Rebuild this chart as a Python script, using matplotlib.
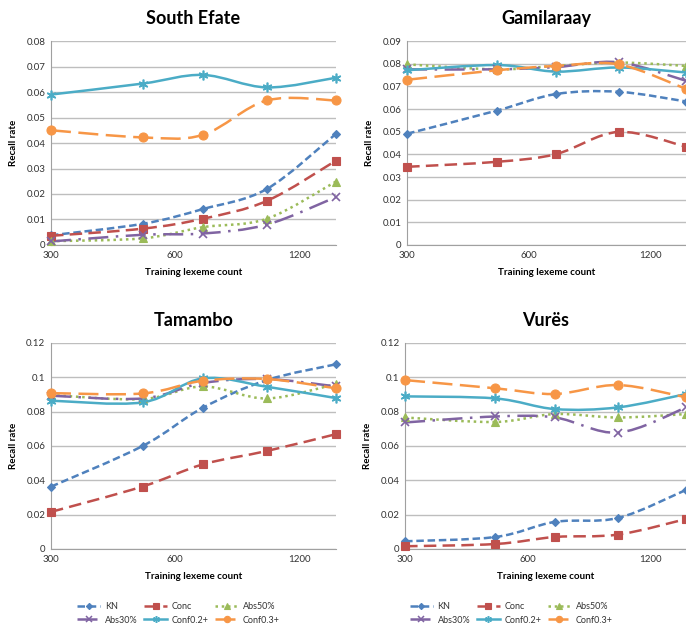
import matplotlib
matplotlib.use("Agg")
import matplotlib.pyplot as plt
import numpy as np
from matplotlib.path import Path
from matplotlib.patches import PathPatch
from matplotlib.lines import Line2D
from matplotlib.ticker import FixedLocator, NullLocator

plt.rcParams['font.family'] = ['Lato', 'DejaVu Sans']

# training sizes (log axis)
x_counts = [300, 500, 700, 1000, 1470]
series = ["KN", "Conc", "Abs50%", "Abs30%", "Conf0.2+", "Conf0.3+"]

south_efate = {
    "KN":       [0.0038, 0.0083, 0.0141, 0.0220, 0.0436],
    "Conc":     [0.0036, 0.0064, 0.0103, 0.0173, 0.0331],
    "Abs50%":   [0.0015, 0.0026, 0.0070, 0.0103, 0.0249],
    "Abs30%":   [0.0014, 0.0040, 0.0045, 0.0080, 0.0188],
    "Conf0.2+": [0.0590, 0.0633, 0.0667, 0.0618, 0.0656],
    "Conf0.3+": [0.0450, 0.0422, 0.0432, 0.0567, 0.0567],
}
gamilaraay = {
    "KN":       [0.0491, 0.0593, 0.0666, 0.0676, 0.0633],
    "Conc":     [0.0345, 0.0367, 0.0401, 0.0499, 0.0433],
    "Abs50%":   [0.0797, 0.0775, 0.0790, 0.0805, 0.0790],
    "Abs30%":   [0.0775, 0.0775, 0.0785, 0.0806, 0.0724],
    "Conf0.2+": [0.0771, 0.0794, 0.0765, 0.0783, 0.0761],
    "Conf0.3+": [0.0729, 0.0771, 0.0790, 0.0797, 0.0688],
}
tamambo = {
    "KN":       [0.0363, 0.0600, 0.0823, 0.0984, 0.1076],
    "Conc":     [0.0216, 0.0364, 0.0493, 0.0571, 0.0669],
    "Abs50%":   [0.0897, 0.0873, 0.0947, 0.0877, 0.0961],
    "Abs30%":   [0.0893, 0.0877, 0.0967, 0.0990, 0.0947],
    "Conf0.2+": [0.0864, 0.0854, 0.0994, 0.0945, 0.0879],
    "Conf0.3+": [0.0908, 0.0906, 0.0980, 0.0990, 0.0936],
}
vures = {
    "KN":       [0.0045, 0.0070, 0.0158, 0.0181, 0.0345],
    "Conc":     [0.0016, 0.0029, 0.0070, 0.0084, 0.0175],
    "Abs50%":   [0.0766, 0.0740, 0.0786, 0.0766, 0.0786],
    "Abs30%":   [0.0737, 0.0772, 0.0766, 0.0678, 0.0825],
    "Conf0.2+": [0.0889, 0.0877, 0.0815, 0.0825, 0.0903],
    "Conf0.3+": [0.0984, 0.0936, 0.0903, 0.0955, 0.0883],
}

panels = [
    ("South Efate", south_efate, 0.08, 0.01),
    ("Gamilaraay", gamilaraay, 0.09, 0.01),
    ("Tamambo", tamambo, 0.12, 0.02),
    ("Vurës", vures, 0.12, 0.02),
]

# excel-ish styles
styles = {
    "KN":       dict(color="#4F81BD", ls=(0, (3, 1.5)), marker="D", ms=4.5),
    "Conc":     dict(color="#C0504D", ls=(0, (5, 2.5)), marker="s", ms=6),
    "Abs50%":   dict(color="#9BBB59", ls=(0, (1, 1.5)), marker="^", ms=6),
    "Abs30%":   dict(color="#8064A2", ls=(0, (8, 3, 1, 3)), marker="x", ms=6),
    "Conf0.2+": dict(color="#4BACC6", ls="-", marker=(6, 2, 0), ms=7),
    "Conf0.3+": dict(color="#F79646", ls=(0, (8, 3)), marker="o", ms=6.5),
}


def smooth_path(xs, ys):
    # catmull-rom style bezier in log-x space, like excel's smoothed lines
    lx = np.log(np.array(xs, float))
    y = np.array(ys, float)
    n = len(lx)
    verts = [(xs[0], y[0])]
    codes = [Path.MOVETO]
    for i in range(n - 1):
        i0, i3 = max(i - 1, 0), min(i + 2, n - 1)
        c1x = lx[i] + (lx[i + 1] - lx[i0]) / 6
        c1y = y[i] + (y[i + 1] - y[i0]) / 6
        c2x = lx[i + 1] - (lx[i3] - lx[i]) / 6
        c2y = y[i + 1] - (y[i3] - y[i]) / 6
        verts += [(np.exp(c1x), c1y), (np.exp(c2x), c2y), (xs[i + 1], y[i + 1])]
        codes += [Path.CURVE4] * 3
    return Path(verts, codes)


fig = plt.figure(figsize=(6.86, 6.29), dpi=100)
rects = [
    [0.0743, 0.6105, 0.4155, 0.3243],
    [0.5935, 0.6105, 0.4070, 0.3243],
    [0.0743, 0.1272, 0.4155, 0.3275],
    [0.5905, 0.1272, 0.4100, 0.3275],
]

axes = []
for (title, data, ymax, ystep), r in zip(panels, rects):
    ax = fig.add_axes(r)
    axes.append(ax)
    ax.set_xscale("log")
    ax.set_xlim(x_counts[0], x_counts[-1])
    ax.set_ylim(0, ymax)
    ax.set_yticks(np.arange(0, ymax + ystep / 2, ystep))
    ax.set_yticklabels([("%g" % v) for v in np.arange(0, ymax + ystep / 2, ystep)])
    ax.xaxis.set_major_locator(FixedLocator([300, 600, 1200]))
    ax.xaxis.set_minor_locator(NullLocator())
    ax.set_xticklabels(["300", "600", "1200"])
    ax.grid(axis="y", color="#BEBEBE", lw=1)
    ax.set_axisbelow(True)
    for s in ["top", "right"]:
        ax.spines[s].set_visible(False)
    for s in ["left", "bottom"]:
        ax.spines[s].set_color("#A0A0A0")
    ax.tick_params(length=0, labelsize=7, pad=4, colors="#333333")
    ax.set_title(title, fontsize=13, fontweight="bold", pad=12)
    ax.set_xlabel("Training lexeme count", fontsize=7, fontweight="bold", labelpad=6)
    ax.set_ylabel("Recall rate", fontsize=7, fontweight="bold", labelpad=6)

    for name in series:
        st = styles[name]
        patch = PathPatch(smooth_path(x_counts, data[name]), facecolor="none",
                          edgecolor=st["color"], lw=1.8, linestyle=st["ls"],
                          clip_on=False, zorder=2)
        ax.add_patch(patch)
        mk = st["marker"]
        ax.plot(x_counts, data[name], ls="none", marker=mk, ms=st["ms"],
                color=st["color"], mec=st["color"],
                mew=1.2 if mk in ("x", (6, 2, 0)) else 0.8,
                clip_on=False, zorder=3)

# legends under each column, filled row by row
handles = {}
for name in series:
    st = styles[name]
    mk = st["marker"]
    handles[name] = Line2D([], [], color=st["color"], ls=st["ls"], lw=1.8,
                           marker=mk, ms=st["ms"] * 0.7,
                           mew=1.1 if mk in ("x", (6, 2, 0)) else 0.8)
order = ["KN", "Abs30%", "Conc", "Conf0.2+", "Abs50%", "Conf0.3+"]
for cx in [0.26, 0.745]:
    fig.legend([handles[n] for n in order], order, ncol=3, loc="center",
               bbox_to_anchor=(cx, 0.025), frameon=False, fontsize=6.5,
               handlelength=2.6, columnspacing=0.7, handletextpad=0.5,
               labelspacing=0.5, labelcolor="#333333")

fig.savefig("out.png", dpi=100)
